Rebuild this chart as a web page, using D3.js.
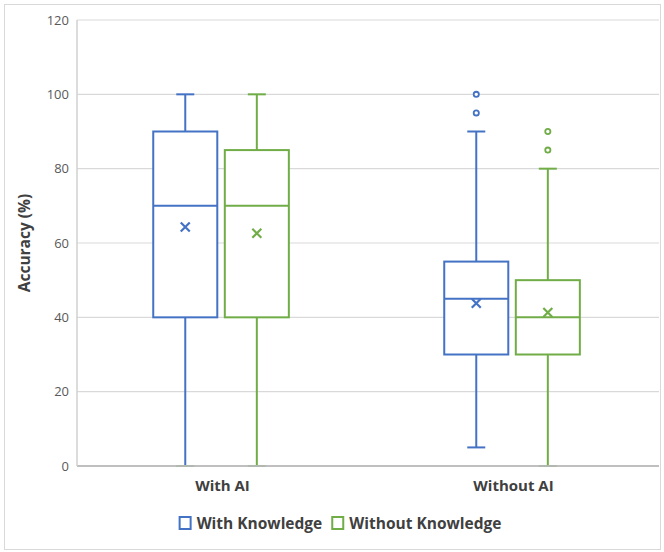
<!DOCTYPE html>
<html>
<head>
<meta charset="utf-8">
<script src="https://cdn.jsdelivr.net/npm/d3@7"></script>
<style>
  body { margin: 0; background: #fff; }
  text { font-family: "Open Sans", Lato, sans-serif; }
</style>
</head>
<body>
<div id="chart"></div>
<script>
// chart values
var groups = ["With AI", "Without AI"];
var series = ["With Knowledge", "Without Knowledge"];
var colors = ["#4472C4", "#70AD47"];
var yTicks = [0, 20, 40, 60, 80, 100, 120];

// five-number summaries per series, one entry per group
var mins    = [[0, 5],   [0, 0]];
var q1s     = [[40, 30], [40, 30]];
var medians = [[70, 45], [70, 40]];
var q3s     = [[90, 55], [85, 50]];
var maxs    = [[100, 90], [100, 80]];
var means   = [[64.3, 43.8], [62.6, 41.3]];
var outliers = [[[], [95, 100]], [[], [85, 90]]];

var W = 664, H = 552;
var margin = {top: 20, right: 5, bottom: 86, left: 77};

var svg = d3.select("#chart").append("svg")
    .attr("width", W)
    .attr("height", H);

// outer chart border
svg.append("rect")
  .attr("x", 4.5).attr("y", 4.5)
  .attr("width", 656).attr("height", 545)
  .attr("fill", "none")
  .attr("stroke", "#d9d9d9");

const x0 = d3.scaleBand()
  .domain(groups)
  .range([margin.left, W - margin.right]);

// the two boxes sit in the middle of each category band
const x1 = d3.scaleBand()
  .domain(series)
  .range([x0.bandwidth() * 0.262, x0.bandwidth() * 0.728])
  .paddingInner(0.105);

const y = d3.scaleLinear()
  .domain([0, 120])
  .range([H - margin.bottom, margin.top]);

// gridlines
svg.append("g")
  .selectAll("line")
  .data(yTicks)
  .join("line")
    .attr("x1", margin.left)
    .attr("x2", W - margin.right)
    .attr("y1", d => y(d))
    .attr("y2", d => y(d))
    .attr("stroke", d => d == 0 ? "#bfbfbf" : "#d9d9d9")
    .attr("stroke-width", d => d == 0 ? 2 : 1.2);

// left axis line
svg.append("line")
  .attr("x1", margin.left).attr("x2", margin.left)
  .attr("y1", y(120)).attr("y2", y(0))
  .attr("stroke", "#d0d0d0")
  .attr("stroke-width", 1.5);

// y axis labels
svg.append("g")
  .attr("transform", `translate(${margin.left},0)`)
  .call(d3.axisLeft(y).tickValues(yTicks).tickSize(0).tickPadding(8))
  .call(g => g.select(".domain").remove())
  .selectAll("text")
    .style("font-family", "'Open Sans', sans-serif")
    .style("font-size", "13px")
    .style("fill", "#595959");

// x axis labels
svg.append("g")
  .attr("transform", `translate(0,${y(0)})`)
  .call(d3.axisBottom(x0).tickSize(0).tickPadding(14))
  .call(g => g.select(".domain").remove())
  .selectAll("text")
    .style("font-family", "'Open Sans', sans-serif")
    .style("font-size", "15px")
    .style("font-weight", "bold")
    .style("fill", "#404040");

svg.append("text")
  .attr("transform", `translate(30,${(y(0) + y(120)) / 2}) rotate(-90)`)
  .attr("text-anchor", "middle")
  .style("font-size", "15.5px")
  .style("font-weight", "bold")
  .style("fill", "#404040")
  .text("Accuracy (%)");

// boxes
series.forEach(function(s, si) {
  var col = colors[si];
  var g = svg.append("g");
  groups.forEach(function(grp, gi) {
    var left = x0(grp) + x1(s);
    var bw = x1.bandwidth();
    var cx = left + bw / 2;
    var cap = 9;

    // whiskers
    g.append("line")
      .attr("x1", cx).attr("x2", cx)
      .attr("y1", y(maxs[si][gi])).attr("y2", y(q3s[si][gi]))
      .attr("stroke", col).attr("stroke-width", 2);
    g.append("line")
      .attr("x1", cx).attr("x2", cx)
      .attr("y1", y(q1s[si][gi])).attr("y2", y(mins[si][gi]))
      .attr("stroke", col).attr("stroke-width", 2);
    [maxs[si][gi], mins[si][gi]].forEach(function(v) {
      g.append("line")
        .attr("x1", cx - cap).attr("x2", cx + cap)
        .attr("y1", y(v)).attr("y2", y(v))
        .attr("stroke", v == 0 ? "#b0b8b0" : col)
        .attr("stroke-width", 2);
    });

    // box
    g.append("rect")
      .attr("x", left)
      .attr("y", y(q3s[si][gi]))
      .attr("width", bw)
      .attr("height", y(q1s[si][gi]) - y(q3s[si][gi]))
      .attr("fill", "#fff")
      .attr("stroke", col)
      .attr("stroke-width", 2);
    g.append("line")
      .attr("x1", left).attr("x2", left + bw)
      .attr("y1", y(medians[si][gi])).attr("y2", y(medians[si][gi]))
      .attr("stroke", col).attr("stroke-width", 2);

    // mean marker
    var my = y(means[si][gi]), m = 4.5;
    g.append("path")
      .attr("d", `M${cx - m},${my - m}L${cx + m},${my + m}M${cx - m},${my + m}L${cx + m},${my - m}`)
      .attr("stroke", col).attr("stroke-width", 2.2).attr("fill", "none");

    // outliers
    g.selectAll(null)
      .data(outliers[si][gi])
      .join("circle")
        .attr("cx", cx)
        .attr("cy", d => y(d))
        .attr("r", 2.6)
        .attr("fill", "#fff")
        .attr("stroke", col)
        .attr("stroke-width", 1.8);
  });
});

// legend, centred under the plot
var legend = svg.append("g").attr("transform", "translate(0,523)");
var items = series.map(function(s, i) {
  var it = legend.append("g");
  it.append("rect")
    .attr("x", 0).attr("y", -6)
    .attr("width", 11).attr("height", 12)
    .attr("fill", "#fff")
    .attr("stroke", colors[i])
    .attr("stroke-width", 2);
  var t = it.append("text")
    .attr("x", 17).attr("y", 5.5)
    .style("font-size", "15.5px")
    .style("font-weight", "bold")
    .style("fill", "#404040")
    .text(s);
  return {g: it, w: 17 + t.node().getComputedTextLength()};
});
var total = items[0].w + 10 + items[1].w;
var pos = 340.5 - total / 2;
items.forEach(function(it) {
  it.g.attr("transform", `translate(${pos},0)`);
  pos += it.w + 10;
});
</script>
</body>
</html>
